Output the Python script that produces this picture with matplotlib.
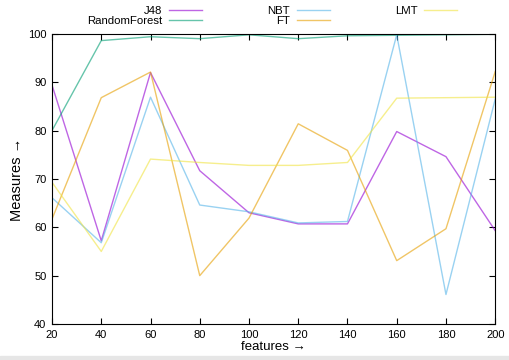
import matplotlib.pyplot as plt
from matplotlib.patches import Rectangle

plt.rcParams['font.family'] = ['Liberation Sans', 'DejaVu Sans']

features = [20, 40, 60, 80, 100, 120, 140, 160, 180, 200]
j48 = [89.4, 57.2, 92.0, 71.7, 63.0, 60.7, 60.7, 79.8, 74.6, 59.3]
random_forest = [80.0, 98.6, 99.4, 99.0, 99.8, 99.0, 99.6, 99.7, 99.8, 99.9]
nbt = [66.1, 56.8, 86.9, 64.6, 63.2, 60.9, 61.2, 99.8, 46.1, 86.5]
ft = [61.7, 86.8, 92.1, 50.0, 61.9, 81.4, 75.9, 53.1, 59.7, 92.2]
lmt = [69.3, 55.0, 74.1, 73.4, 72.8, 72.8, 73.4, 86.7, 86.8, 86.9]

fig = plt.figure(figsize=(5.1, 3.6), dpi=100)
ax = fig.add_axes([0.102, 0.1, 0.869, 0.806])

ax.plot(features, j48, color='#9400d3', lw=1, alpha=0.6, label='J48')
ax.plot(features, random_forest, color='#009e73', lw=1, alpha=0.6, label='RandomForest')
ax.plot(features, nbt, color='#56b4e9', lw=1, alpha=0.6, label='NBT')
ax.plot(features, ft, color='#e69f00', lw=1, alpha=0.6, label='FT')
ax.plot(features, lmt, color='#f0e442', lw=1, alpha=0.6, label='LMT')

ax.set_xlim(20, 200)
ax.set_ylim(40, 100)
ax.set_xticks(range(20, 201, 20))
ax.set_yticks(range(40, 101, 10))
ax.tick_params(direction='in', top=True, right=True, labelsize=8, length=4, pad=4)
for s in ax.spines.values():
    s.set_linewidth(0.8)

ax.set_xlabel('features →', fontsize=9.5, labelpad=1)
ax.set_ylabel('Measures →', fontsize=10.5, labelpad=3)

ax.legend(loc='lower center', bbox_to_anchor=(0.497, 1.01), ncol=3, frameon=False,
          markerfirst=False, fontsize=8.2, handlelength=2.9, columnspacing=5.7,
          labelspacing=0.05, borderaxespad=0, handletextpad=0.6)

# light grey strip along the bottom edge
fig.patches.append(Rectangle((0, 0), 1, 0.01, transform=fig.transFigure,
                             color='#e6e6e6', zorder=-1))

fig.savefig('out.png')
